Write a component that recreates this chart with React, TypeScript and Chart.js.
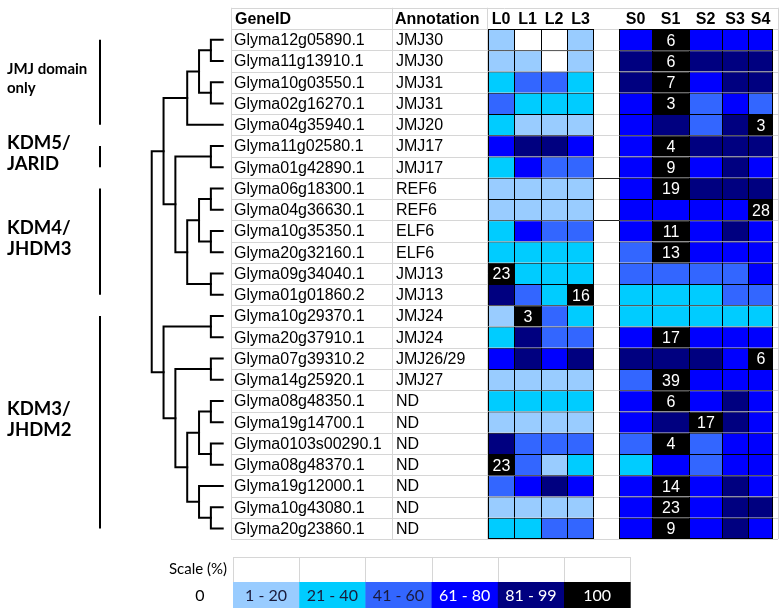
import React, { useEffect, useRef } from 'react';
import { Chart, registerables } from 'chart.js';

Chart.register(...registerables);

// ---------------- data ----------------
const geneIds = [
  'Glyma12g05890.1', 'Glyma11g13910.1', 'Glyma10g03550.1', 'Glyma02g16270.1', 'Glyma04g35940.1',
  'Glyma11g02580.1', 'Glyma01g42890.1', 'Glyma06g18300.1', 'Glyma04g36630.1', 'Glyma10g35350.1',
  'Glyma20g32160.1', 'Glyma09g34040.1', 'Glyma01g01860.2', 'Glyma10g29370.1', 'Glyma20g37910.1',
  'Glyma07g39310.2', 'Glyma14g25920.1', 'Glyma08g48350.1', 'Glyma19g14700.1', 'Glyma0103s00290.1',
  'Glyma08g48370.1', 'Glyma19g12000.1', 'Glyma10g43080.1', 'Glyma20g23860.1',
];
const annotations = [
  'JMJ30', 'JMJ30', 'JMJ31', 'JMJ31', 'JMJ20', 'JMJ17', 'JMJ17', 'REF6', 'REF6', 'ELF6', 'ELF6', 'JMJ13',
  'JMJ13', 'JMJ24', 'JMJ24', 'JMJ26/29', 'JMJ27', 'ND', 'ND', 'ND', 'ND', 'ND', 'ND', 'ND',
];
const heatColumns = ['L0', 'L1', 'L2', 'L3', 'S0', 'S1', 'S2', 'S3', 'S4'];

// scale class per cell: 0 = 0%, 1 = 1-20, 2 = 21-40, 3 = 41-60, 4 = 61-80, 5 = 81-99;
// a string = 100% (black cell) holding the number printed in it
const L0 = [1, 1, 2, 3, 2, 4, 2, 1, 1, 2, 2, '23', 5, 1, 2, 4, 1, 2, 1, 5, '23', 3, 1, 2];
const L1 = [0, 1, 3, 2, 1, 5, 4, 1, 1, 4, 2, 2, 3, '3', 5, 5, 1, 2, 1, 3, 3, 4, 1, 2];
const L2 = [0, 0, 3, 2, 1, 5, 3, 1, 1, 3, 2, 2, 2, 3, 3, 4, 1, 2, 1, 3, 1, 5, 1, 3];
const L3 = [1, 1, 2, 2, 1, 4, 3, 1, 1, 3, 2, 2, '16', 2, 3, 5, 1, 2, 1, 3, 2, 4, 1, 3];
const S0 = [4, 5, 5, 4, 4, 4, 4, 4, 4, 4, 3, 3, 2, 2, 4, 5, 3, 4, 4, 3, 2, 4, 4, 4];
const S1 = ['6', '6', '7', '3', 5, '4', '9', '19', 4, '11', '13', 3, 2, 2, '17', 5, '39', '6', 5, '4', 4, '14', '23', '9'];
const S2 = [4, 5, 4, 3, 3, 5, 4, 5, 4, 4, 4, 3, 2, 2, 4, 5, 4, 4, '17', 3, 3, 4, 4, 4];
const S3 = [4, 5, 5, 4, 5, 5, 5, 5, 4, 5, 4, 3, 3, 2, 4, 4, 4, 5, 5, 4, 4, 5, 5, 5];
const S4 = [4, 5, 5, 3, '3', 5, 4, 5, '28', 4, 4, 4, 3, 2, 4, '6', 4, 4, 4, 4, 4, 4, 5, 4];
const heatValues = [L0, L1, L2, L3, S0, S1, S2, S3, S4];

// dendrogram: [merge level, left, right]; leaves are row indices
const dendrogram: any = [6,
  [5,
    [3, [2, [1, 0, 1], [1, 2, 3]], 4],
    [4, [1, 5, 6], [3, [2, [1, 7, 8], [1, 9, 10]], [1, 11, 12]]]],
  [5,
    [1, 13, 14],
    [4, [1, 15, 16], [3, [2, [1, 17, 18], [1, 19, 20]], [2, 21, [1, 22, 23]]]]]];

const groupNames = [['JMJ domain', 'only'], ['KDM5/', 'JARID'], ['KDM4/', 'JHDM3'], ['KDM3/', 'JHDM2']];
const groupRows = [[0, 4], [5, 6], [7, 12], [13, 23]];

const scaleTitle = 'Scale (%)';
const scaleLabels = ['0', '1 - 20', '21 - 40', '41 - 60', '61 - 80', '81 - 99', '100'];

// ---------------- styles / layout ----------------
const heatColors = ['#FFFFFF', '#99CCFF', '#00CCFF', '#3366FF', '#0000FF', '#000080', '#000000'];
const scaleTextColors = ['#000000', '#1a1a3a', '#1a1a3a', '#1a1a3a', '#FFFFFF', '#FFFFFF', '#FFFFFF'];
const colEdges = [[488, 514], [514, 541], [541, 567], [567, 594], [619, 652], [652, 689], [689, 722], [722, 748], [748, 773]];
const W = 782;
const H = 616;
const ARIAL = '"Liberation Sans", Arial, sans-serif';
const CALIBRI = 'Lato, "Open Sans", sans-serif';

const cls = (v: any) => (typeof v === 'string' ? 6 : v);

function buildDendro(node: any, out: any[]): { h: number; y: number } {
  if (typeof node === 'number') return { h: 0, y: node };
  const [h, a, b] = node;
  const A = buildDendro(a, out);
  const B = buildDendro(b, out);
  out.push([{ x: A.h, y: A.y }, { x: h, y: A.y }, { x: h, y: B.y }, { x: B.h, y: B.y }]);
  return { h, y: (A.y + B.y) / 2 };
}

const tablePlugin = {
  id: 'tablePlugin',
  beforeDatasetsDraw(chart: any) {
    const { ctx } = chart;
    const y = chart.scales.y;
    const x = chart.scales.x;
    const band = y.getPixelForValue(1) - y.getPixelForValue(0);
    const rowTop = (i: number) => y.getPixelForValue(i) - band / 2;
    const top = rowTop(-1);
    const bottom = rowTop(geneIds.length);
    ctx.save();
    ctx.fillStyle = '#fff';
    ctx.fillRect(0, 0, W, H);
    ctx.strokeStyle = '#d6d6d6';
    ctx.lineWidth = 1;
    const x0 = x.getPixelForValue(231);
    const x1 = x.getPixelForValue(778);
    for (let i = -1; i <= geneIds.length; i++) {
      const yy = Math.round(rowTop(i)) + 0.5;
      ctx.beginPath();
      ctx.moveTo(x0, yy);
      ctx.lineTo(x1, yy);
      ctx.stroke();
    }
    [231, 392, 487, 778].forEach((vx) => {
      const px = Math.round(x.getPixelForValue(vx)) + 0.5;
      ctx.beginPath();
      ctx.moveTo(px, top);
      ctx.lineTo(px, bottom);
      ctx.stroke();
    });
    // dark rules in the gap column next to the REF6 rows
    ctx.strokeStyle = '#222';
    [7, 9].forEach((r) => {
      const yy = Math.round(rowTop(r)) + 0.5;
      ctx.beginPath();
      ctx.moveTo(x.getPixelForValue(594), yy);
      ctx.lineTo(x.getPixelForValue(619), yy);
      ctx.stroke();
    });
    ctx.restore();
  },
  afterDatasetsDraw(chart: any) {
    const { ctx } = chart;
    const y = chart.scales.y;
    const x = chart.scales.x;
    ctx.save();
    ctx.textBaseline = 'middle';
    ctx.fillStyle = '#000';
    // header
    const hy = y.getPixelForValue(-1) + 1;
    ctx.font = `bold 16px ${ARIAL}`;
    ctx.textAlign = 'left';
    ctx.fillText('GeneID', x.getPixelForValue(235), hy);
    ctx.fillText('Annotation', x.getPixelForValue(395), hy);
    ctx.textAlign = 'center';
    heatColumns.forEach((c, j) => {
      ctx.fillText(c, x.getPixelForValue((colEdges[j][0] + colEdges[j][1]) / 2), hy);
    });
    // rows
    ctx.font = `16px ${ARIAL}`;
    ctx.textAlign = 'left';
    geneIds.forEach((g, i) => {
      const yy = y.getPixelForValue(i) + 1;
      ctx.fillText(g, x.getPixelForValue(234), yy);
      ctx.fillText(annotations[i], x.getPixelForValue(396), yy);
    });
    // numbers in black cells
    ctx.textAlign = 'center';
    ctx.fillStyle = '#fff';
    heatValues.forEach((vals, j) => {
      const meta = chart.getDatasetMeta(j);
      vals.forEach((v: any, i: number) => {
        if (typeof v !== 'string') return;
        const el = meta.data[i];
        ctx.fillText(v, (el.x + el.base) / 2 + 0.5, el.y + 1.5);
      });
    });
    // group labels and bars
    ctx.fillStyle = '#000';
    ctx.strokeStyle = '#000';
    ctx.lineWidth = 2;
    ctx.textAlign = 'left';
    groupRows.forEach(([a, b], k) => {
      const ya = y.getPixelForValue(a);
      const yb = y.getPixelForValue(b);
      ctx.beginPath();
      ctx.moveTo(100, ya);
      ctx.lineTo(100, yb);
      ctx.stroke();
      const small = k === 0;
      ctx.font = small ? `bold 15px ${CALIBRI}` : `bold 18.5px ${CALIBRI}`;
      const gap = small ? 19 : 21;
      const cy = (ya + yb) / 2 - 3;
      ctx.fillText(groupNames[k][0], 7, cy - gap / 2);
      ctx.fillText(groupNames[k][1], 7, cy + gap / 2);
    });
    // scale legend
    const lx = 233;
    const cw = 66.2;
    const t0 = 557;
    const t1 = 582;
    const t2 = 608;
    ctx.strokeStyle = '#d6d6d6';
    ctx.lineWidth = 1;
    ctx.beginPath();
    ctx.moveTo(lx, t0 + 0.5);
    ctx.lineTo(lx + 6 * cw, t0 + 0.5);
    for (let k = 0; k <= 6; k++) {
      const px = Math.round(lx + k * cw) + 0.5;
      ctx.moveTo(px, t0);
      ctx.lineTo(px, t1);
    }
    ctx.stroke();
    ctx.font = `15px ${CALIBRI}`;
    ctx.fillStyle = '#000';
    ctx.textAlign = 'left';
    ctx.fillText(scaleTitle, 169, (t0 + t1) / 2);
    ctx.font = `16px ${CALIBRI}`;
    ctx.textAlign = 'center';
    ctx.fillText(scaleLabels[0], 200, (t1 + t2) / 2 + 1);
    for (let k = 1; k <= 6; k++) {
      const xa = lx + (k - 1) * cw;
      ctx.fillStyle = heatColors[k];
      ctx.fillRect(xa, t1, cw + 0.5, t2 - t1);
      ctx.fillStyle = scaleTextColors[k];
      ctx.fillText(scaleLabels[k], xa + cw / 2, (t1 + t2) / 2 + 1);
    }
    ctx.restore();
  },
};

export default function App() {
  const ref = useRef<HTMLCanvasElement>(null);
  useEffect(() => {
    if (!ref.current) return;
    const lastCols = [3, 8];
    const n = geneIds.length;
    const barSets = heatValues.map((vals, j) => ({
      type: 'bar' as const,
      label: heatColumns[j],
      data: vals.map(() => colEdges[j]),
      backgroundColor: vals.map((v: any) => heatColors[cls(v)]),
      borderColor: '#000',
      borderWidth: (c: any) => ({
        left: 1,
        top: 1,
        right: lastCols.includes(j) ? 1 : 0,
        bottom: c.dataIndex === n - 1 ? 1 : 0,
      }),
      borderSkipped: false,
      inflateAmount: 0,
      categoryPercentage: 1,
      barPercentage: 1,
      grouped: false,
      xAxisID: 'x',
      yAxisID: 'y',
      order: 2,
    }));
    const segs: any[] = [];
    buildDendro(dendrogram, segs);
    const treeSets = segs.map((pts, k) => ({
      type: 'scatter' as const,
      label: 'node' + k,
      data: pts,
      showLine: true,
      pointRadius: 0,
      borderColor: '#000',
      borderWidth: 2,
      borderCapStyle: 'square',
      xAxisID: 'xd',
      yAxisID: 'yd',
      order: 1,
    }));
    const pxPerLevel = 11.83;
    const leafX = 222.7;
    const chart = new Chart(ref.current, {
      type: 'bar',
      data: { labels: geneIds, datasets: [...barSets, ...treeSets] as any },
      options: {
        indexAxis: 'y',
        animation: false,
        responsive: true,
        maintainAspectRatio: false,
        layout: { padding: { top: 29, bottom: H - 539, left: 0, right: 0 } },
        plugins: { legend: { display: false }, tooltip: { enabled: false } },
        events: [],
        scales: {
          x: { type: 'linear', axis: 'x', min: 0, max: W, display: false, offset: false, bounds: 'data' },
          y: { type: 'category', axis: 'y', offset: true, display: false },
          xd: {
            type: 'linear', axis: 'x', reverse: true, display: false, offset: false, bounds: 'data',
            max: leafX / pxPerLevel, min: leafX / pxPerLevel - W / pxPerLevel,
          },
          yd: { type: 'linear', axis: 'y', reverse: true, display: false, offset: false, bounds: 'data', min: -0.5, max: n - 0.5 },
        },
      } as any,
      plugins: [tablePlugin],
    });
    return () => chart.destroy();
  }, []);
  return (
    <div style={{ position: 'fixed', left: 0, top: 0, width: W, height: H, background: '#fff' }}>
      <canvas ref={ref} />
    </div>
  );
}
